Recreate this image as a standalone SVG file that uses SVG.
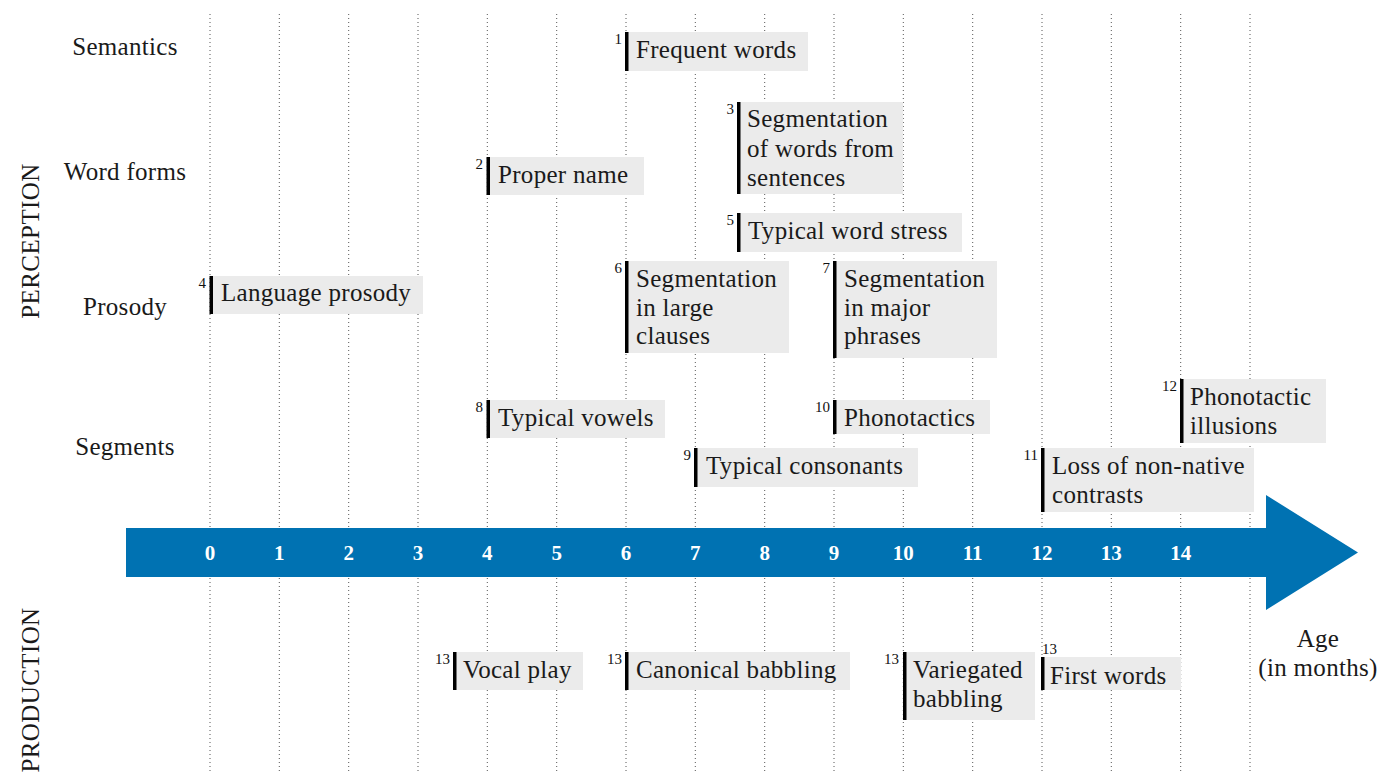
<svg xmlns="http://www.w3.org/2000/svg" width="1381" height="773" viewBox="0 0 1381 773" font-family="'Liberation Serif', 'DejaVu Serif', serif">
  <style>
    text { font-family: 'Liberation Serif', 'DejaVu Serif', serif; fill: #1a1a1a; }
    .lbl { font-family: 'Liberation Serif', serif; font-size: 25px; letter-spacing: 0.3px; }
    .row { font-family: 'Liberation Serif', serif; font-size: 25px; letter-spacing: 0.3px; text-anchor: middle; }
    .side { font-family: 'Liberation Serif', serif; font-size: 25px; letter-spacing: 0.4px; text-anchor: middle; }
    .sup { font-family: 'Liberation Serif', serif; font-size: 15px; fill: #111; text-anchor: end; }
    .supl { font-family: 'Liberation Serif', serif; font-size: 15px; fill: #111; text-anchor: start; }
    .tick { font-family: 'Liberation Serif', serif; font-size: 21px; font-weight: bold; fill: #ffffff; text-anchor: middle; }
    .box { fill: #ebebeb; }
    .bar { fill: #000000; }
    .grid line { stroke: #555; stroke-width: 1; stroke-dasharray: 1 3; }
  </style>

  <rect width="1381" height="773" fill="#ffffff"/>

  <!-- month grid -->
  <g class="grid">
    <line x1="210" y1="14" x2="210" y2="771"/>
    <line x1="279.3" y1="14" x2="279.3" y2="771"/>
    <line x1="348.7" y1="14" x2="348.7" y2="771"/>
    <line x1="418" y1="14" x2="418" y2="771"/>
    <line x1="487.3" y1="14" x2="487.3" y2="771"/>
    <line x1="556.7" y1="14" x2="556.7" y2="771"/>
    <line x1="626" y1="14" x2="626" y2="771"/>
    <line x1="695.3" y1="14" x2="695.3" y2="771"/>
    <line x1="764.7" y1="14" x2="764.7" y2="771"/>
    <line x1="834" y1="14" x2="834" y2="771"/>
    <line x1="903.3" y1="14" x2="903.3" y2="771"/>
    <line x1="972.7" y1="14" x2="972.7" y2="771"/>
    <line x1="1042" y1="14" x2="1042" y2="771"/>
    <line x1="1111.3" y1="14" x2="1111.3" y2="771"/>
    <line x1="1180.7" y1="14" x2="1180.7" y2="771"/>
    <line x1="1250" y1="14" x2="1250" y2="771"/>
  </g>

  <!-- side and row labels -->
  <g id="labels">
    <text class="side" transform="translate(39,241) rotate(-90)">PERCEPTION</text>
    <text class="side" transform="translate(39,690) rotate(-90)">PRODUCTION</text>
    <text class="row" x="125" y="55">Semantics</text>
    <text class="row" x="125" y="180">Word forms</text>
    <text class="row" x="125" y="315">Prosody</text>
    <text class="row" x="125" y="455">Segments</text>
    <text class="row" x="1318" y="647">Age</text>
    <text class="row" x="1318" y="676">(in months)</text>
  </g>

  <!-- age axis -->
  <g id="axis">
    <path d="M126,528 H1266 V495 L1358,552.5 L1266,610 V577 H126 Z" fill="#0072b2"/>
    <text class="tick" x="210" y="560">0</text>
    <text class="tick" x="279.3" y="560">1</text>
    <text class="tick" x="348.7" y="560">2</text>
    <text class="tick" x="418" y="560">3</text>
    <text class="tick" x="487.3" y="560">4</text>
    <text class="tick" x="556.7" y="560">5</text>
    <text class="tick" x="626" y="560">6</text>
    <text class="tick" x="695.3" y="560">7</text>
    <text class="tick" x="764.7" y="560">8</text>
    <text class="tick" x="834" y="560">9</text>
    <text class="tick" x="903.3" y="560">10</text>
    <text class="tick" x="972.7" y="560">11</text>
    <text class="tick" x="1042" y="560">12</text>
    <text class="tick" x="1111.3" y="560">13</text>
    <text class="tick" x="1180.7" y="560">14</text>
  </g>

  <!-- milestone boxes (no connectors besides the axis) -->
  <g id="connectors"/>

  <g id="m1">
    <rect class="box" x="626" y="32" width="182" height="39"/>
    <rect class="bar" x="625" y="32" width="3.5" height="39"/>
    <text class="sup" x="622" y="44">1</text>
    <text class="lbl" x="636" y="58">Frequent words</text>
  </g>

  <g id="m2">
    <rect class="box" x="487" y="157" width="157" height="38"/>
    <rect class="bar" x="486.5" y="157" width="3.5" height="38"/>
    <text class="sup" x="483" y="169">2</text>
    <text class="lbl" x="498" y="183">Proper name</text>
  </g>

  <g id="m3">
    <rect class="box" x="738" y="102" width="165" height="92"/>
    <rect class="bar" x="737" y="102" width="3.5" height="92"/>
    <text class="sup" x="734" y="114">3</text>
    <text class="lbl" x="747" y="127">Segmentation</text>
    <text class="lbl" x="747" y="157">of words from</text>
    <text class="lbl" x="747" y="186">sentences</text>
  </g>

  <g id="m4">
    <rect class="box" x="211" y="276" width="212" height="38"/>
    <rect class="bar" x="209.5" y="276" width="3.5" height="38"/>
    <text class="sup" x="206" y="288">4</text>
    <text class="lbl" x="221" y="301">Language prosody</text>
  </g>

  <g id="m5">
    <rect class="box" x="738" y="213" width="224" height="39"/>
    <rect class="bar" x="737" y="213" width="3.5" height="39"/>
    <text class="sup" x="734" y="225">5</text>
    <text class="lbl" x="748" y="239">Typical word stress</text>
  </g>

  <g id="m6">
    <rect class="box" x="626" y="261" width="163" height="92"/>
    <rect class="bar" x="625" y="261" width="3.5" height="92"/>
    <text class="sup" x="622" y="273">6</text>
    <text class="lbl" x="636" y="287">Segmentation</text>
    <text class="lbl" x="636" y="316">in large</text>
    <text class="lbl" x="636" y="344">clauses</text>
  </g>

  <g id="m7">
    <rect class="box" x="834" y="261" width="163" height="97"/>
    <rect class="bar" x="833" y="261" width="3.5" height="97"/>
    <text class="sup" x="830" y="273">7</text>
    <text class="lbl" x="844" y="287">Segmentation</text>
    <text class="lbl" x="844" y="316">in major</text>
    <text class="lbl" x="844" y="344">phrases</text>
  </g>

  <g id="m8">
    <rect class="box" x="487" y="400" width="178" height="38"/>
    <rect class="bar" x="486.5" y="400" width="3.5" height="38"/>
    <text class="sup" x="483" y="412">8</text>
    <text class="lbl" x="498" y="426">Typical vowels</text>
  </g>

  <g id="m9">
    <rect class="box" x="695" y="448" width="223" height="39"/>
    <rect class="bar" x="694" y="448" width="3.5" height="39"/>
    <text class="sup" x="691" y="460">9</text>
    <text class="lbl" x="706" y="474">Typical consonants</text>
  </g>

  <g id="m10">
    <rect class="box" x="834" y="400" width="156" height="34"/>
    <rect class="bar" x="833" y="400" width="3.5" height="34"/>
    <text class="sup" x="830" y="412">10</text>
    <text class="lbl" x="844" y="426">Phonotactics</text>
  </g>

  <g id="m11">
    <rect class="box" x="1042" y="448" width="212" height="64"/>
    <rect class="bar" x="1041" y="448" width="3.5" height="64"/>
    <text class="sup" x="1038" y="460">11</text>
    <text class="lbl" x="1052" y="474">Loss of non-native</text>
    <text class="lbl" x="1052" y="503">contrasts</text>
  </g>

  <g id="m12">
    <rect class="box" x="1181" y="379" width="145" height="64"/>
    <rect class="bar" x="1180" y="379" width="3.5" height="64"/>
    <text class="sup" x="1177" y="391">12</text>
    <text class="lbl" x="1190" y="405">Phonotactic</text>
    <text class="lbl" x="1190" y="434">illusions</text>
  </g>

  <g id="p1">
    <rect class="box" x="454" y="652" width="129" height="38"/>
    <rect class="bar" x="453" y="652" width="3.5" height="38"/>
    <text class="sup" x="450" y="664">13</text>
    <text class="lbl" x="463" y="678">Vocal play</text>
  </g>

  <g id="p2">
    <rect class="box" x="626" y="652" width="224" height="38"/>
    <rect class="bar" x="625" y="652" width="3.5" height="38"/>
    <text class="sup" x="622" y="664">13</text>
    <text class="lbl" x="636" y="678">Canonical babbling</text>
  </g>

  <g id="p3">
    <rect class="box" x="904" y="652" width="131" height="68"/>
    <rect class="bar" x="903" y="652" width="3.5" height="68"/>
    <text class="sup" x="899" y="664">13</text>
    <text class="lbl" x="913" y="678">Variegated</text>
    <text class="lbl" x="913" y="707">babbling</text>
  </g>

  <g id="p4">
    <rect class="box" x="1042" y="657" width="139" height="33"/>
    <rect class="bar" x="1041" y="657" width="3.5" height="33"/>
    <text class="supl" x="1042" y="654">13</text>
    <text class="lbl" x="1050" y="684">First words</text>
  </g>
</svg>
